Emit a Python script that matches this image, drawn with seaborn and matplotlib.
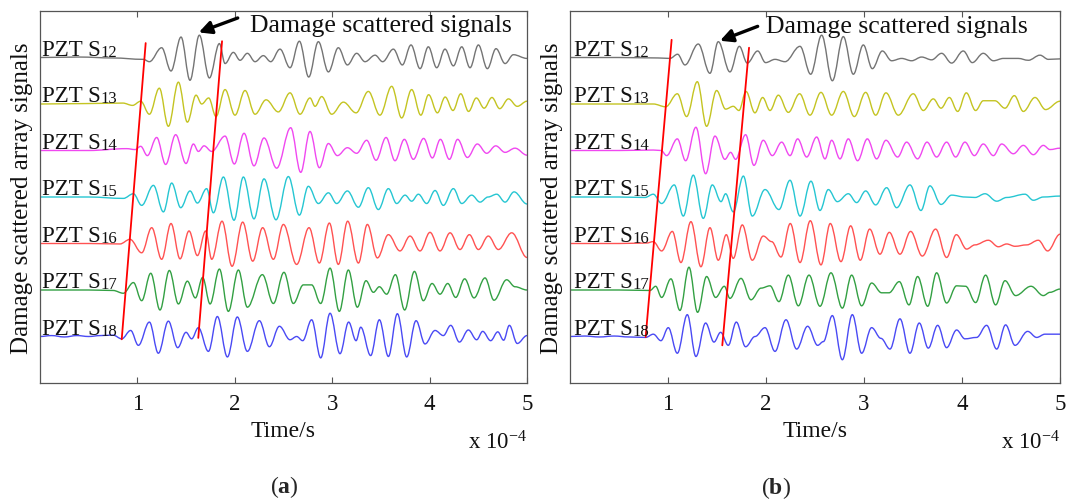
import matplotlib
matplotlib.use("Agg")
import matplotlib.pyplot as plt
from matplotlib.path import Path
from matplotlib.patches import PathPatch
import numpy as np
import pandas as pd
import seaborn as sns

# Sensor rows, top to bottom
sensors = ["S12", "S13", "S14", "S15", "S16", "S17", "S18"]
time_ticks = [1, 2, 3, 4, 5]

# ---- Panel (a): (time [x1e-4 s], amplitude) turning points of each trace ----
a_s12 = [(0.0, 0.0), (0.4, 0.01), (0.75, -0.01), (1.061, -0.04), (1.123, -0.09), (1.249, 0.21),
         (1.345, -0.29), (1.448, 0.44), (1.540, -0.49), (1.636, 0.48), (1.739, -0.44), (1.842, 0.30),
         (1.900, -0.13), (1.985, 0.11), (2.054, -0.06), (2.129, 0.09), (2.208, -0.09), (2.293, 0.04),
         (2.369, -0.09), (2.464, 0.18), (2.567, -0.22), (2.663, 0.35), (2.759, -0.42), (2.858, 0.34),
         (2.961, -0.31), (3.063, 0.21), (3.156, -0.16), (3.251, 0.09), (3.337, -0.09), (3.440, 0.05),
         (3.518, -0.09), (3.628, 0.18), (3.720, -0.16), (3.809, 0.27), (3.902, -0.24), (3.987, 0.23),
         (4.073, -0.22), (4.158, 0.18), (4.244, -0.18), (4.330, 0.23), (4.415, -0.22), (4.501, 0.27),
         (4.593, -0.24), (4.682, 0.19), (4.775, -0.13), (4.860, 0.06), (5.0, -0.02)]
a_s13 = [(0.0, 0.0), (0.5, 0.01), (0.85, 0.02), (0.95, -0.03), (1.034, 0.06), (1.123, -0.22),
         (1.225, 0.34), (1.318, -0.48), (1.421, 0.47), (1.513, -0.39), (1.602, 0.19), (1.660, 0.00),
         (1.732, 0.13), (1.807, -0.27), (1.900, 0.31), (2.002, -0.24), (2.105, 0.29), (2.208, -0.22),
         (2.321, 0.09), (2.447, -0.17), (2.567, 0.24), (2.670, -0.22), (2.772, 0.13), (2.824, -0.05),
         (2.892, 0.16), (2.995, -0.22), (3.115, 0.04), (3.245, -0.19), (3.371, 0.27), (3.490, -0.24),
         (3.611, 0.38), (3.713, -0.30), (3.816, 0.31), (3.910, -0.24), (3.990, 0.20), (4.080, -0.19),
         (4.160, 0.15), (4.240, -0.14), (4.320, 0.22), (4.400, -0.16), (4.480, 0.13), (4.560, -0.09),
         (4.640, 0.14), (4.720, -0.10), (4.810, 0.11), (4.900, -0.05), (5.0, 0.06)]
a_s14 = [(0.0, 0.0), (0.5, 0.0), (0.890, 0.04), (0.976, 0.02), (1.034, 0.09), (1.102, -0.11),
         (1.198, 0.28), (1.290, -0.30), (1.393, 0.34), (1.499, -0.28), (1.575, 0.14), (1.626, -0.02),
         (1.684, 0.10), (1.763, -0.02), (1.900, 0.31), (1.995, -0.29), (2.095, 0.37), (2.197, -0.33),
         (2.300, 0.27), (2.430, -0.38), (2.574, 0.49), (2.677, -0.47), (2.772, 0.41), (2.868, -0.37),
         (2.961, 0.15), (3.053, -0.11), (3.156, 0.06), (3.251, -0.06), (3.354, 0.22), (3.450, -0.21),
         (3.553, 0.28), (3.645, -0.22), (3.741, 0.24), (3.833, -0.19), (3.939, 0.26), (4.028, -0.16),
         (4.111, 0.24), (4.203, -0.19), (4.288, 0.24), (4.388, -0.15), (4.490, 0.14), (4.586, -0.06),
         (4.679, 0.10), (4.775, -0.04), (4.877, 0.05), (5.0, -0.10)]
a_s15 = [(0.0, 0.0), (0.5, 0.0), (0.856, -0.03), (0.959, 0.07), (1.044, -0.18), (1.164, 0.25),
         (1.267, -0.32), (1.352, 0.30), (1.445, -0.23), (1.540, 0.13), (1.616, -0.13), (1.711, 0.18),
         (1.780, -0.34), (1.883, 0.43), (1.992, -0.50), (2.088, 0.43), (2.197, -0.47), (2.300, 0.39),
         (2.423, -0.49), (2.550, 0.44), (2.663, -0.39), (2.755, 0.23), (2.858, -0.14), (2.961, 0.09),
         (3.046, -0.14), (3.156, 0.13), (3.269, -0.22), (3.371, 0.20), (3.474, -0.27), (3.577, 0.18),
         (3.662, -0.14), (3.748, 0.04), (3.816, -0.09), (3.885, 0.06), (3.970, -0.14), (4.056, 0.14),
         (4.141, -0.18), (4.244, 0.18), (4.330, -0.14), (4.432, 0.04), (4.518, -0.11), (4.600, 0.00),
         (4.689, 0.06), (4.775, -0.11), (4.867, 0.11), (5.0, -0.15)]
a_s16 = [(0.0, 0.0), (0.5, 0.0), (0.82, -0.01), (0.924, 0.09), (1.044, -0.20), (1.147, 0.34),
         (1.249, -0.34), (1.345, 0.43), (1.438, -0.33), (1.530, 0.27), (1.616, -0.26), (1.701, 0.27),
         (1.763, -0.34), (1.869, 0.48), (1.972, -0.49), (2.081, 0.46), (2.184, -0.38), (2.286, 0.34),
         (2.396, -0.34), (2.499, 0.41), (2.635, -0.45), (2.762, 0.34), (2.868, -0.42), (2.971, 0.44),
         (3.063, -0.45), (3.159, 0.48), (3.269, -0.42), (3.361, 0.41), (3.464, -0.31), (3.577, 0.19),
         (3.696, -0.16), (3.799, 0.16), (3.902, -0.16), (4.004, 0.24), (4.107, -0.16), (4.210, 0.23),
         (4.312, -0.13), (4.408, 0.19), (4.501, -0.13), (4.603, 0.16), (4.706, -0.13), (4.843, 0.23),
         (5.0, -0.30)]
a_s17 = [(0.0, 0.0), (0.5, 0.0), (0.75, -0.01), (0.856, -0.07), (0.959, 0.16), (1.044, -0.23),
         (1.137, 0.36), (1.232, -0.43), (1.328, 0.42), (1.421, -0.30), (1.513, 0.19), (1.595, -0.17),
         (1.670, 0.27), (1.746, -0.30), (1.842, 0.45), (1.934, -0.46), (2.037, 0.43), (2.129, -0.37),
         (2.283, 0.33), (2.396, -0.29), (2.505, 0.38), (2.601, -0.29), (2.704, 0.11), (2.789, 0.11),
         (2.882, -0.29), (2.978, 0.47), (3.073, -0.46), (3.166, 0.43), (3.258, -0.37), (3.347, 0.20),
         (3.423, -0.05), (3.484, 0.07), (3.559, -0.09), (3.649, 0.33), (3.744, -0.43), (3.844, 0.40),
         (3.936, -0.23), (4.025, 0.14), (4.107, -0.09), (4.186, 0.14), (4.268, -0.16), (4.360, 0.24),
         (4.456, -0.17), (4.569, 0.26), (4.661, -0.22), (4.791, 0.22), (4.877, 0.07), (5.0, 0.0)]
a_s18 = [(0.0, 0.0), (0.12, 0.02), (0.25, -0.01), (0.38, 0.02), (0.5, 0.0), (0.62, 0.02),
         (0.75, 0.03), (0.839, -0.05), (0.931, 0.13), (1.010, -0.19), (1.123, 0.31), (1.215, -0.36),
         (1.318, 0.33), (1.414, -0.24), (1.499, 0.09), (1.557, -0.05), (1.626, 0.19), (1.729, -0.32),
         (1.821, 0.43), (1.924, -0.44), (2.026, 0.42), (2.129, -0.32), (2.252, 0.34), (2.355, -0.22),
         (2.458, 0.22), (2.567, -0.07), (2.635, 0.00), (2.697, -0.09), (2.789, 0.36), (2.882, -0.46),
         (2.978, 0.50), (3.080, -0.37), (3.169, 0.31), (3.245, -0.09), (3.293, 0.20), (3.395, -0.41),
         (3.484, 0.36), (3.577, -0.43), (3.669, 0.49), (3.765, -0.44), (3.861, 0.34), (3.953, -0.16),
         (4.056, 0.13), (4.141, 0.02), (4.217, 0.24), (4.306, -0.12), (4.398, 0.14), (4.483, -0.07),
         (4.545, 0.11), (4.627, -0.09), (4.700, 0.10), (4.760, -0.08), (4.819, 0.24), (4.900, -0.15),
         (5.0, 0.02)]

# ---- Panel (b) ----
b_s12 = [(0.0, 0.0), (0.5, 0.0), (0.9, -0.01), (1.020, -0.02), (1.098, 0.07), (1.173, -0.16),
         (1.309, 0.29), (1.428, -0.34), (1.513, 0.34), (1.632, -0.31), (1.728, 0.24), (1.809, -0.12),
         (1.915, 0.14), (1.996, -0.11), (2.092, -0.04), (2.194, -0.09), (2.347, 0.24), (2.456, -0.36),
         (2.568, 0.48), (2.677, -0.50), (2.789, 0.45), (2.891, -0.36), (2.993, 0.27), (3.085, -0.24),
         (3.187, 0.14), (3.282, -0.07), (3.384, -0.02), (3.486, -0.07), (3.588, 0.01), (3.690, -0.05),
         (3.792, 0.09), (3.894, -0.12), (4.013, 0.14), (4.105, -0.11), (4.217, 0.09), (4.320, -0.07),
         (4.422, -0.02), (4.574, -0.02), (4.677, -0.06), (4.796, 0.05), (4.881, -0.04), (5.0, -0.03)]
b_s13 = [(0.0, 0.0), (0.5, 0.0), (0.85, 0.0), (0.976, -0.06), (1.095, 0.22), (1.190, -0.27),
         (1.299, 0.48), (1.394, -0.48), (1.496, 0.29), (1.588, -0.11), (1.666, -0.05), (1.724, -0.14),
         (1.796, 0.27), (1.887, -0.19), (1.966, 0.14), (2.041, -0.14), (2.126, 0.19), (2.228, -0.18),
         (2.343, 0.22), (2.449, -0.24), (2.561, 0.25), (2.670, -0.24), (2.789, 0.27), (2.901, -0.27),
         (3.017, 0.25), (3.119, -0.24), (3.224, 0.24), (3.350, -0.24), (3.503, 0.22), (3.605, -0.14),
         (3.707, 0.11), (3.786, -0.09), (3.871, 0.14), (3.956, -0.16), (4.044, 0.24), (4.139, -0.14),
         (4.217, 0.07), (4.336, 0.07), (4.439, -0.09), (4.534, 0.18), (4.626, -0.16), (4.745, 0.14),
         (4.853, -0.12), (5.0, 0.06)]
b_s14 = [(0.0, 0.0), (0.5, 0.0), (0.85, 0.01), (0.93, 0.0), (0.986, -0.11), (1.095, 0.25),
         (1.180, -0.22), (1.285, 0.50), (1.384, -0.50), (1.479, 0.31), (1.581, -0.19), (1.639, -0.04),
         (1.690, -0.19), (1.792, 0.34), (1.877, -0.32), (1.972, 0.22), (2.064, -0.11), (2.160, 0.18),
         (2.245, -0.11), (2.323, 0.25), (2.415, -0.14), (2.517, 0.29), (2.602, -0.18), (2.670, 0.22),
         (2.755, -0.18), (2.840, 0.25), (2.935, -0.22), (3.034, 0.25), (3.129, -0.18), (3.224, 0.22),
         (3.343, -0.14), (3.435, 0.18), (3.547, -0.18), (3.643, 0.18), (3.741, -0.14), (3.843, 0.18),
         (3.935, -0.14), (4.030, 0.18), (4.126, -0.11), (4.217, 0.14), (4.320, -0.11), (4.405, 0.14),
         (4.524, -0.07), (4.626, 0.11), (4.728, -0.09), (4.830, 0.11), (4.898, 0.02), (5.0, 0.05)]
b_s15 = [(0.0, 0.0), (0.5, 0.0), (0.765, -0.01), (0.850, 0.06), (0.935, -0.14), (1.064, 0.26),
         (1.156, -0.41), (1.258, 0.47), (1.360, -0.46), (1.452, 0.26), (1.541, -0.10), (1.588, 0.07),
         (1.666, -0.32), (1.769, 0.45), (1.860, -0.41), (1.990, 0.16), (2.132, -0.27), (2.245, 0.36),
         (2.347, -0.41), (2.459, 0.34), (2.551, -0.29), (2.636, 0.16), (2.728, -0.10), (2.840, 0.07),
         (2.925, -0.12), (3.017, 0.13), (3.119, -0.17), (3.231, 0.20), (3.333, -0.23), (3.469, 0.26),
         (3.581, -0.29), (3.673, 0.24), (3.786, -0.16), (3.894, 0.04), (4.030, 0.00), (4.133, -0.01),
         (4.235, 0.07), (4.354, -0.09), (4.456, -0.01), (4.643, 0.06), (4.728, -0.07), (4.830, 0.00),
         (5.0, 0.02)]
b_s16 = [(0.0, 0.0), (0.5, 0.0), (0.78, 0.01), (0.850, 0.04), (0.935, -0.16), (1.044, 0.26),
         (1.132, -0.41), (1.234, 0.47), (1.336, -0.50), (1.428, 0.34), (1.513, -0.36), (1.595, 0.19),
         (1.666, -0.32), (1.758, 0.40), (1.860, -0.36), (1.972, 0.16), (2.058, 0.04), (2.153, -0.29),
         (2.248, 0.43), (2.347, -0.41), (2.452, 0.49), (2.561, -0.46), (2.656, 0.43), (2.765, -0.39),
         (2.864, 0.38), (2.962, -0.36), (3.058, 0.31), (3.163, -0.23), (3.258, 0.24), (3.367, -0.23),
         (3.476, 0.26), (3.595, -0.27), (3.731, 0.31), (3.843, -0.30), (3.942, 0.19), (4.047, -0.12),
         (4.132, -0.03), (4.269, 0.07), (4.371, -0.07), (4.456, -0.01), (4.541, -0.06), (4.660, -0.03),
         (4.779, 0.07), (4.874, -0.16), (5.0, 0.20)]
b_s17 = [(0.0, 0.0), (0.5, 0.0), (0.816, -0.01), (0.874, 0.08), (0.935, -0.16), (1.030, 0.24),
         (1.122, -0.44), (1.214, 0.49), (1.302, -0.48), (1.394, 0.29), (1.486, -0.16), (1.575, 0.08),
         (1.632, -0.18), (1.745, 0.25), (1.847, -0.21), (1.949, 0.04), (2.041, 0.09), (2.132, -0.25),
         (2.228, 0.32), (2.330, -0.34), (2.439, 0.32), (2.551, -0.35), (2.663, 0.37), (2.779, -0.39),
         (2.874, 0.32), (2.976, -0.34), (3.078, 0.15), (3.180, -0.06), (3.255, -0.06), (3.360, 0.18),
         (3.459, -0.32), (3.547, 0.29), (3.650, -0.35), (3.741, 0.37), (3.843, -0.28), (3.945, 0.09),
         (4.037, 0.08), (4.139, -0.27), (4.241, 0.32), (4.343, -0.32), (4.439, 0.20), (4.547, -0.12),
         (4.704, 0.08), (4.830, -0.12), (4.898, -0.05), (5.0, 0.02)]
b_s18 = [(0.0, 0.0), (0.15, 0.01), (0.3, -0.01), (0.45, 0.01), (0.6, -0.01), (0.772, -0.02),
         (0.850, 0.05), (0.928, -0.09), (1.003, 0.19), (1.095, -0.36), (1.197, 0.47), (1.285, -0.43),
         (1.384, 0.29), (1.469, -0.12), (1.537, 0.09), (1.615, -0.19), (1.697, 0.31), (1.792, -0.22),
         (1.888, 0.00), (1.990, 0.19), (2.092, -0.32), (2.204, 0.36), (2.313, -0.27), (2.425, 0.22),
         (2.527, -0.19), (2.585, -0.11), (2.677, 0.45), (2.779, -0.50), (2.881, 0.47), (2.976, -0.36),
         (3.078, 0.19), (3.173, -0.04), (3.265, -0.27), (3.367, 0.38), (3.469, -0.36), (3.564, 0.29),
         (3.656, -0.25), (3.752, 0.24), (3.843, -0.24), (3.945, 0.14), (4.030, -0.05), (4.149, -0.02),
         (4.251, 0.24), (4.354, -0.27), (4.445, 0.25), (4.541, -0.19), (4.670, 0.11), (4.762, -0.02),
         (4.847, 0.05), (5.0, 0.05)]

# Wave-front guide lines, (time, row level) end points
a_front_lead = [(1.085, 7.31), (0.839, 0.94)]
a_front_scatter = [(1.869, 7.35), (1.625, 0.97)]
b_front_lead = [(1.037, 7.38), (0.772, 0.99)]
b_front_scatter = [(1.827, 7.21), (1.554, 0.81)]

panel_a = [a_s12, a_s13, a_s14, a_s15, a_s16, a_s17, a_s18]
panel_b = [b_s12, b_s13, b_s14, b_s15, b_s16, b_s17, b_s18]

# ---- style ----
sns.set_style("ticks")
plt.rcParams["font.family"] = ["Liberation Serif", "DejaVu Serif"]
plt.rcParams["mathtext.fontset"] = "custom"
plt.rcParams["mathtext.rm"] = "Liberation Serif"
plt.rcParams["mathtext.it"] = "Liberation Serif:italic"
plt.rcParams["mathtext.bf"] = "Liberation Serif:bold"

palette = dict(zip(sensors, sns.color_palette(
    ["#747474", "#c4c422", "#f048f0", "#26c6d2", "#ff5252", "#33a043", "#4a4af4"])))

W, H = 1067, 502
fig = plt.figure(figsize=(W / 100, H / 100), dpi=100)
ax_a = fig.add_axes([40 / W, 1 - 384 / H, 487 / W, 372 / H])
ax_b = fig.add_axes([570 / W, 1 - 384 / H, 490 / W, 372 / H])


def traces_frame(signals):
    n = len(sensors)
    parts = []
    for i, (name, samples) in enumerate(zip(sensors, signals)):
        arr = np.asarray(samples, dtype=float)
        parts.append(pd.DataFrame({"sensor": name, "time": arr[:, 0],
                                   "level": arr[:, 1] + (n - i)}))
    return pd.concat(parts, ignore_index=True)


def smooth_trace(ax, times, levels, color):
    """Draw a trace through its turning points as a smooth curve
    (cubic segments with flat tangents at every turning point)."""
    k = 0.364
    verts = [(times[0], levels[0])]
    codes = [Path.MOVETO]
    for x0, y0, x1, y1 in zip(times[:-1], levels[:-1], times[1:], levels[1:]):
        dx = x1 - x0
        verts += [(x0 + k * dx, y0), (x1 - k * dx, y1), (x1, y1)]
        codes += [Path.CURVE4] * 3
    ax.add_patch(PathPatch(Path(verts, codes), fill=False, edgecolor=color,
                           lw=1.0, capstyle="round", joinstyle="round"))


def draw_panel(ax, signals, fronts, label_x, note_xy, arrow_tail, arrow_head):
    df = traces_frame(signals)
    for name, grp in df.groupby("sensor", sort=False):
        smooth_trace(ax, grp["time"].to_numpy(), grp["level"].to_numpy(), palette[name])

    fr = pd.concat([pd.DataFrame({"front": j, "time": np.asarray(f)[:, 0],
                                  "level": np.asarray(f)[:, 1]})
                    for j, f in enumerate(fronts)], ignore_index=True)
    sns.lineplot(data=fr, x="time", y="level", units="front", estimator=None, sort=False,
                 color="#ff0000", lw=1.3, legend=False, ax=ax)

    n = len(sensors)
    for i, name in enumerate(sensors):
        base = n - i
        txt = ax.text(label_x, base + 0.06, "PZT S", fontsize=16.5, ha="left",
                      va="baseline", color="#111111")
        ax.annotate(name[1:], xy=(1, 0), xycoords=txt, fontsize=12,
                    ha="left", va="bottom", color="#111111")

    ax.annotate("", xy=arrow_head, xytext=arrow_tail,
                arrowprops=dict(arrowstyle="-|>,head_length=0.75,head_width=0.38",
                                color="black", lw=2.4, shrinkA=0, shrinkB=0))
    ax.text(note_xy[0], note_xy[1], "Damage scattered signals", fontsize=18.5,
            ha="left", va="center", color="#111111")

    ax.set_xlim(0, 5)
    ax.set_ylim(0, 8)
    ax.set_xticks(time_ticks)
    ax.set_xticklabels([str(t) for t in time_ticks])
    ax.set_yticks([])
    ax.tick_params(axis="x", direction="in", top=True, bottom=True, length=4,
                   width=0.8, color="#555555", labelsize=16.5, labelcolor="#111111", pad=7)
    for sp in ax.spines.values():
        sp.set_color("#555555")
        sp.set_linewidth(0.9)
    ax.set_xlabel("Time/s", fontsize=17, color="#111111")
    ax.xaxis.set_label_coords(0.5, -0.10)
    ax.set_ylabel("Damage scattered array signals", fontsize=18, labelpad=5, color="#111111")
    ax.text(1.0, -0.158, r"x 10$^{-4}$", transform=ax.transAxes, ha="right",
            va="center", fontsize=16.5, color="#111111")


draw_panel(ax_a, panel_a, [a_front_lead, a_front_scatter], 0.02,
           (2.16, 7.70), (2.03, 7.85), (1.63, 7.54))
draw_panel(ax_b, panel_b, [b_front_lead, b_front_scatter], 0.04,
           (2.0, 7.68), (1.915, 7.67), (1.531, 7.36))

fig.text(284 / W, 1 - 487 / H, r"($\mathbf{a}$)", ha="center", va="center", fontsize=17)
fig.text(776 / W, 1 - 488 / H, r"($\mathbf{b}$)", ha="center", va="center", fontsize=17)

fig.savefig("out.png", dpi=100)
